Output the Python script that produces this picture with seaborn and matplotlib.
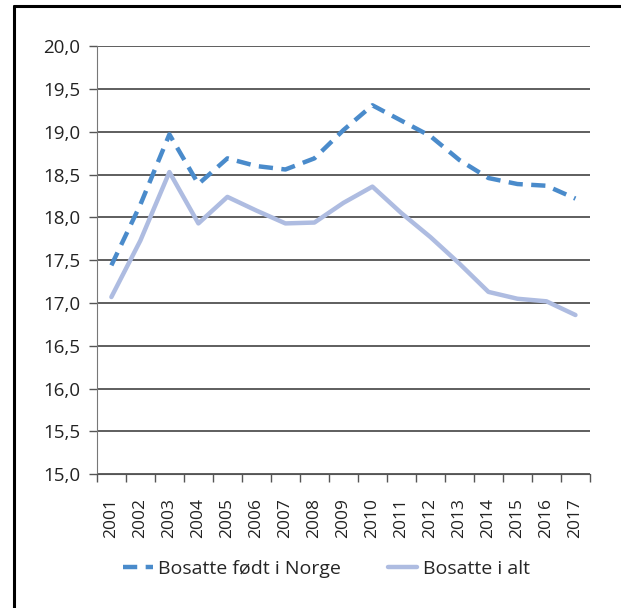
import numpy as np
import pandas as pd
import matplotlib.pyplot as plt
import matplotlib.lines as mlines
import seaborn as sns

# Data
years = ['2001', '2002', '2003', '2004', '2005', '2006', '2007', '2008', '2009',
         '2010', '2011', '2012', '2013', '2014', '2015', '2016', '2017']
fodt_i_norge = [17.44, 18.15, 18.97, 18.39, 18.69, 18.60, 18.56, 18.69, 19.02,
                19.31, 19.13, 18.95, 18.67, 18.46, 18.39, 18.37, 18.22]
i_alt = [17.07, 17.73, 18.53, 17.93, 18.24, 18.08, 17.93, 17.94, 18.17,
         18.36, 18.05, 17.77, 17.46, 17.13, 17.05, 17.02, 16.86]
series_names = ['Bosatte født i Norge', 'Bosatte i alt']

df = pd.DataFrame({'År': years, series_names[0]: fodt_i_norge,
                   series_names[1]: i_alt})
df_long = df.melt(id_vars='År', var_name='Serie', value_name='Verdi')

sns.set_style('white')
plt.rcParams['font.family'] = ['Open Sans', 'DejaVu Sans']

fig = plt.figure(figsize=(6.21, 6.08), dpi=100)
ax = fig.add_axes([0.156, 0.220, 0.794, 0.704])

sns.lineplot(data=df_long, x='År', y='Verdi', hue='Serie', style='Serie',
             palette=['#4a8bcb', '#aebce1'],
             dashes=[(3.2, 1.9), ''], linewidth=3.2, sort=False, ax=ax)

ax.set_ylim(15, 20)
ax.set_yticks(np.arange(15, 20.01, 0.5))
ax.set_yticklabels([f'{v:.1f}'.replace('.', ',') for v in np.arange(15, 20.01, 0.5)])
ax.set_xlim(-0.5, len(years) - 0.5)
ax.set_xticks(range(len(years)))
ax.set_xticklabels(years, rotation=90)
ax.set_xticks(np.arange(-0.5, len(years)), minor=True)
ax.tick_params(axis='x', which='major', length=0, pad=17, labelsize=12.5, colors='#222222')
ax.tick_params(axis='x', which='minor', length=6, width=1, color='#555555', direction='out')
ax.tick_params(axis='y', length=6, width=1, color='#555555', direction='out',
               pad=6, labelsize=13.5, labelcolor='#222222')
ax.xaxis.set_ticks_position('bottom')
ax.yaxis.set_ticks_position('left')

ax.grid(axis='y', color='#333333', linewidth=1.1)
ax.set_axisbelow(True)
for side in ['top', 'right']:
    ax.spines[side].set_visible(False)
ax.spines['left'].set_color('#777777')
ax.spines['bottom'].set_color('#555555')
ax.set_xlabel('')
ax.set_ylabel('')

ax.legend(title=None, frameon=False, ncol=2, loc='center',
          bbox_to_anchor=(0.526, 0.064), bbox_transform=fig.transFigure,
          fontsize=14, handlelength=1.5, handletextpad=0.3, columnspacing=2.4)

# Frame lines (left and top) around the figure
fig.add_artist(mlines.Line2D([14 / 621, 14 / 621], [0, 1 - 6 / 608],
                             transform=fig.transFigure, color='black', linewidth=2.2))
fig.add_artist(mlines.Line2D([14 / 621, 1], [1 - 6 / 608, 1 - 6 / 608],
                             transform=fig.transFigure, color='black', linewidth=2.2))

plt.savefig('out.png', dpi=100)
